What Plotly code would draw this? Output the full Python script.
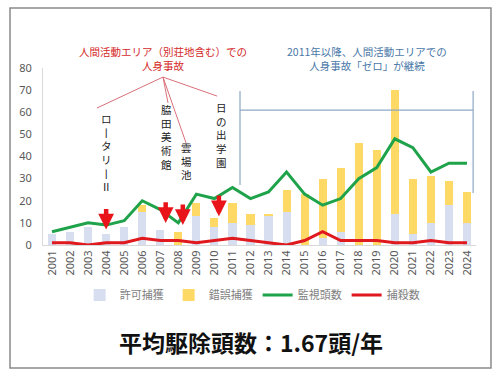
import plotly.graph_objects as go

years = list(range(2001, 2025))
permit = [5, 6, 8, 5, 8, 15, 7, 0, 13, 8, 10, 9, 13, 15, 0, 3, 6, 0, 0, 14, 5, 10, 18, 10]
mistake = [0, 0, 0, 0, 0, 3, 0, 6, 6, 4, 9, 5, 1, 10, 23, 27, 29, 46, 43, 56, 25, 21, 11, 14]
watch = [6, 8, 10, 9, 11, 20, 16, 10, 23, 21, 26, 21, 24, 33, 23, 18, 21, 30, 35, 48, 44, 33, 37, 37]
culled = [1, 1, 0, 1, 1, 3, 2, 2, 1, 2, 3, 2, 1, 0, 2, 6, 2, 2, 2, 1, 1, 2, 1, 1]

series_names = ["許可捕獲", "錯誤捕獲", "監視頭数", "捕殺数"]
accident_sites = ["ロ<br>丨<br>タ<br>リ<br>丨<br>Ⅱ", "脇<br>田<br>美<br>術<br>館", "雲<br>場<br>池", "日<br>の<br>出<br>学<br>園"]
accident_years = [2004, 2007.3, 2008.25, 2010.25]
accident_label_x = [2004.03, 2007.36, 2008.47, 2010.41]
accident_label_top = [61.5, 65.5, 48.3, 66.5]
arrow_tip = [7, 10, 9, 13]
arrow_tail = [17, 20, 19, 23]

JP = "Noto Sans CJK JP"
RED = "#d42a2a"
BLUE_TXT = "#4a78a8"
BRACKET = "#8fa8c4"

fig = go.Figure()
fig.add_bar(x=years, y=permit, name=series_names[0], marker_color="#d6def0", marker_line_width=0)
fig.add_bar(x=years, y=mistake, name=series_names[1], marker_color="#ffd966", marker_line_width=0)
fig.add_scatter(x=years, y=watch, name=series_names[2], mode="lines", line=dict(color="#1fa34a", width=3))
fig.add_scatter(x=years, y=culled, name=series_names[3], mode="lines", line=dict(color="#e0191f", width=3))

shapes = []
# frame
shapes.append(dict(type="rect", xref="paper", yref="paper", x0=-0.0762, x1=1.0346, y0=-0.695, y1=1.339,
                   line=dict(color="#8a8a8a", width=1.5), fillcolor="rgba(0,0,0,0)", layer="below"))
# red leader lines
apex = (2007.15, 75.9)
for ex, ey in [(2003.49, 61.9), (2007.43, 64.2), (2008.43, 46.1), (2010.15, 67.3)]:
    shapes.append(dict(type="line", xref="x", yref="y", x0=apex[0], y0=apex[1], x1=ex, y1=ey,
                       line=dict(color="#d9707a", width=1)))
# blue bracket
shapes.append(dict(type="line", xref="x", yref="y", x0=2011.42, x1=2011.42, y0=69.6, y1=27.1,
                   line=dict(color=BRACKET, width=1.2)))
shapes.append(dict(type="line", xref="x", yref="y", x0=2011.42, x1=2024.34, y0=61.0, y1=61.0,
                   line=dict(color=BRACKET, width=1.2)))
shapes.append(dict(type="line", xref="x", yref="y", x0=2024.34, x1=2024.34, y0=69.6, y1=23.5,
                   line=dict(color=BRACKET, width=1.2)))

annotations = []
for ax_, tip, tail in zip(accident_years, arrow_tip, arrow_tail):
    annotations.append(dict(x=ax_, y=tip, ax=ax_, ay=tail, xref="x", yref="y", axref="x", ayref="y",
                            showarrow=True, arrowhead=2, arrowsize=0.7, arrowwidth=4.5,
                            arrowcolor="#e8141a", text=""))
for lx, lt, txt in zip(accident_label_x, accident_label_top, accident_sites):
    annotations.append(dict(x=lx, y=lt, xref="x", yref="y", text=txt, showarrow=False,
                            xanchor="center", yanchor="top", align="center",
                            font=dict(family=JP, size=10.5, color="#222222")))
annotations.append(dict(x=0.277, y=1.051, xref="paper", yref="paper", showarrow=False,
                        xanchor="center", yanchor="middle",
                        text="人間活動エリア（別荘地含む）での<br>人身事故",
                        font=dict(family=JP, size=10.5, color=RED), align="center"))
annotations.append(dict(x=0.748, y=1.051, xref="paper", yref="paper", showarrow=False,
                        xanchor="center", yanchor="middle",
                        text="2011年以降、人間活動エリアでの<br>人身事故「ゼロ」が継続",
                        font=dict(family=JP, size=10.5, color=BLUE_TXT), align="center"))
annotations.append(dict(x=0.48, y=-0.548, xref="paper", yref="paper", showarrow=False,
                        xanchor="center", yanchor="middle",
                        text="<b>平均駆除頭数：1.67頭/年</b>",
                        font=dict(family=JP, size=23, color="#111111")))

fig.update_layout(
    width=501, height=376,
    margin=dict(l=43, r=25, t=68, b=131),
    paper_bgcolor="white", plot_bgcolor="white",
    barmode="stack", bargap=0.55,
    font=dict(family=JP, size=11, color="#595959"),
    showlegend=True,
    legend=dict(orientation="h", x=0.483, xanchor="center", y=-0.2825, yanchor="middle",
                font=dict(family=JP, size=11, color="#7f7f7f"), itemwidth=30,
                bgcolor="rgba(0,0,0,0)", traceorder="normal"),
    shapes=shapes, annotations=annotations,
)
fig.update_xaxes(range=[2000.5, 2024.5], tickmode="array", tickvals=years, ticktext=[str(y) for y in years],
                 tickangle=-90, showgrid=False, showline=True, linecolor="#d9d9d9", linewidth=1,
                 ticks="", tickfont=dict(family="Noto Sans", size=11, color="#595959"), zeroline=False,
                 automargin=False)
fig.update_yaxes(range=[0, 80], tickmode="array", tickvals=list(range(0, 81, 10)), showgrid=False,
                 showline=True, linecolor="#d9d9d9", linewidth=1, ticks="", zeroline=False,
                 ticklabelstandoff=8, tickfont=dict(family="Noto Sans", size=11, color="#595959"),
                 automargin=False)

fig.write_html("out.html", config={"displayModeBar": False},
               post_script="document.body.style.margin='0';")
